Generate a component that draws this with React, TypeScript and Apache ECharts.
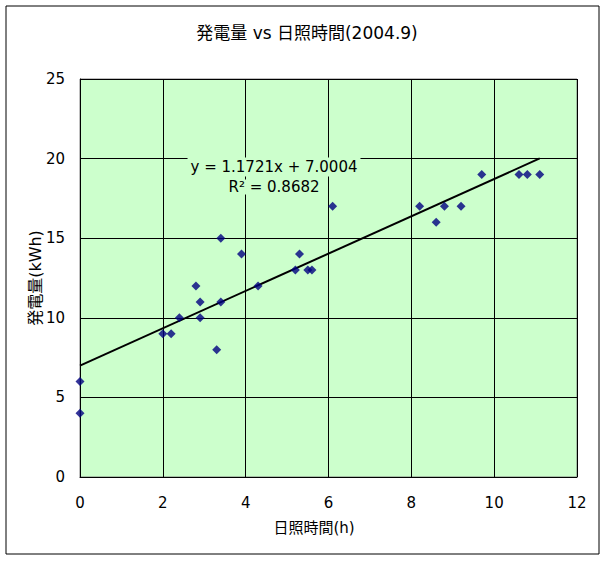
import React, { useEffect, useRef } from "react";
import * as echarts from "echarts";

const sunHours: number[] = [0, 0, 2.0, 2.2, 2.4, 2.8, 2.9, 2.9, 3.3, 3.4, 3.4, 3.9, 4.3, 5.2, 5.3, 5.5, 5.6, 6.1, 8.2, 8.6, 8.8, 9.2, 9.7, 10.6, 10.8, 11.1];
const power: number[] = [6, 4, 9, 9, 10, 12, 11, 10, 8, 15, 11, 14, 12, 13, 14, 13, 13, 17, 17, 16, 17, 17, 19, 19, 19, 19];
const slope = 1.1721;
const intercept = 7.0004;
const rSquared = "0.8682";
const titleText = "発電量 vs 日照時間(2004.9)";
const xName = "日照時間(h)";
const yName = "発電量(kWh)";

const FONT = "'DejaVu Sans', 'Noto Sans CJK JP', sans-serif";

export default function App() {
  const ref = useRef<HTMLDivElement>(null);
  useEffect(() => {
    if (!ref.current) return;
    const chart = echarts.init(ref.current, undefined, { renderer: "svg" });
    const points = sunHours.map((x, i) => [x, power[i]]);
    const xMin = Math.min(...sunHours);
    const xMax = Math.max(...sunHours);
    const trend = [
      [xMin, slope * xMin + intercept],
      [xMax, slope * xMax + intercept],
    ];
    chart.setOption({
      animation: false,
      backgroundColor: "#ffffff",
      grid: {
        left: 80,
        top: 79,
        right: 30,
        bottom: 84,
        show: true,
        backgroundColor: "#CCFFCC",
        borderColor: "#808080",
        borderWidth: 1,
      },
      xAxis: {
        type: "value",
        min: 0,
        max: 12,
        interval: 2,
        axisLine: { show: true, lineStyle: { color: "#000", width: 1 } },
        axisTick: { show: false },
        splitLine: { show: true, lineStyle: { color: "#000", width: 1 } },
        axisLabel: { color: "#000", fontSize: 15, fontFamily: FONT, margin: 18 },
      },
      yAxis: {
        type: "value",
        min: 0,
        max: 25,
        interval: 5,
        axisLine: { show: true, lineStyle: { color: "#000", width: 1 } },
        axisTick: { show: false },
        splitLine: { show: true, lineStyle: { color: "#000", width: 1 } },
        axisLabel: { color: "#000", fontSize: 15, fontFamily: FONT, margin: 15 },
      },
      series: [
        {
          type: "line",
          data: trend,
          symbol: "none",
          lineStyle: { color: "#000", width: 2 },
          z: 3,
        },
        {
          type: "scatter",
          data: points,
          symbol: "diamond",
          symbolSize: 9,
          itemStyle: { color: "#000080" },
          z: 4,
        },
      ],
      graphic: [
        {
          type: "rect",
          shape: { x: 6, y: 6, width: 593, height: 548 },
          style: { fill: "none", stroke: "#000", lineWidth: 1 },
          silent: true,
        },
        {
          type: "text",
          x: 307,
          y: 33,
          style: {
            text: titleText,
            font: `17px ${FONT}`,
            fill: "#000",
            align: "center",
            verticalAlign: "middle",
          },
        },
        {
          type: "text",
          x: 314,
          y: 528,
          style: {
            text: xName,
            font: `15px ${FONT}`,
            fill: "#000",
            align: "center",
            verticalAlign: "middle",
          },
        },
        {
          type: "text",
          x: 35,
          y: 278,
          rotation: Math.PI / 2,
          style: {
            text: yName,
            font: `16px ${FONT}`,
            fill: "#000",
            align: "center",
            verticalAlign: "middle",
          },
        },
        {
          type: "text",
          x: 274,
          y: 167,
          z: 10,
          style: {
            text: `y = ${slope}x + ${intercept.toFixed(4)}`,
            font: `15px ${FONT}`,
            fill: "#000",
            align: "center",
            verticalAlign: "middle",
            backgroundColor: "#CCFFCC",
            padding: [2, 3],
          },
        },
        {
          type: "text",
          x: 274,
          y: 187,
          z: 10,
          style: {
            text: `R² = ${rSquared}`,
            font: `15px ${FONT}`,
            fill: "#000",
            align: "center",
            verticalAlign: "middle",
            backgroundColor: "#CCFFCC",
            padding: [0, 2],
          },
        },
      ],
    });
    return () => chart.dispose();
  }, []);
  return (
    <div
      ref={ref}
      style={{ position: "absolute", left: 0, top: 0, width: 607, height: 561 }}
    />
  );
}
